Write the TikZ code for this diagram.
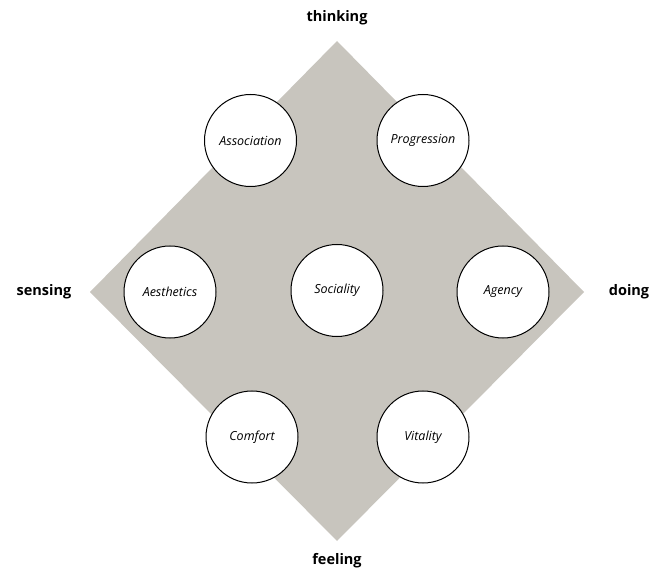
\documentclass[tikz,border=0pt]{standalone}
\usepackage{fontspec}
\setmainfont{Open Sans}
\begin{document}
\begin{tikzpicture}[x=1pt,y=-1pt,
  circ/.style={circle,draw=black,line width=1pt,fill=white,minimum size=92pt,inner sep=0pt,font=\fontsize{12.5}{14}\selectfont\itshape},
  axis/.style={font=\fontsize{14.5}{17}\selectfont\bfseries}]
\useasboundingbox (0,0) rectangle (662,572);
\definecolor{diamondgray}{RGB}{200,197,190}
\coordinate (T) at (337,41);
\coordinate (L) at (90,292);
\coordinate (R) at (584,292);
\coordinate (B) at (337,541);
\fill[diamondgray] (T) -- (R) -- (B) -- (L) -- cycle;
\node[circ] (assoc) at (250.5,140.5) {Association};
\node[circ] (prog) at (423,140.5) {Progression};
\node[circ] (aest) at (170,292) {Aesthetics};
\node[circ] (soc) at (337,290.5) {Sociality};
\node[circ] (agency) at (503,292) {Agency};
\node[circ] (comfort) at (252,437) {Comfort};
\node[circ] (vital) at (423,437) {Vitality};
\node[axis] (thinking) at (337,18) {thinking};
\node[axis] (sensing) at (44,292) {sensing};
\node[axis] (doing) at (629,292) {doing};
\node[axis] (feeling) at (337,561) {feeling};
\end{tikzpicture}
\end{document}
